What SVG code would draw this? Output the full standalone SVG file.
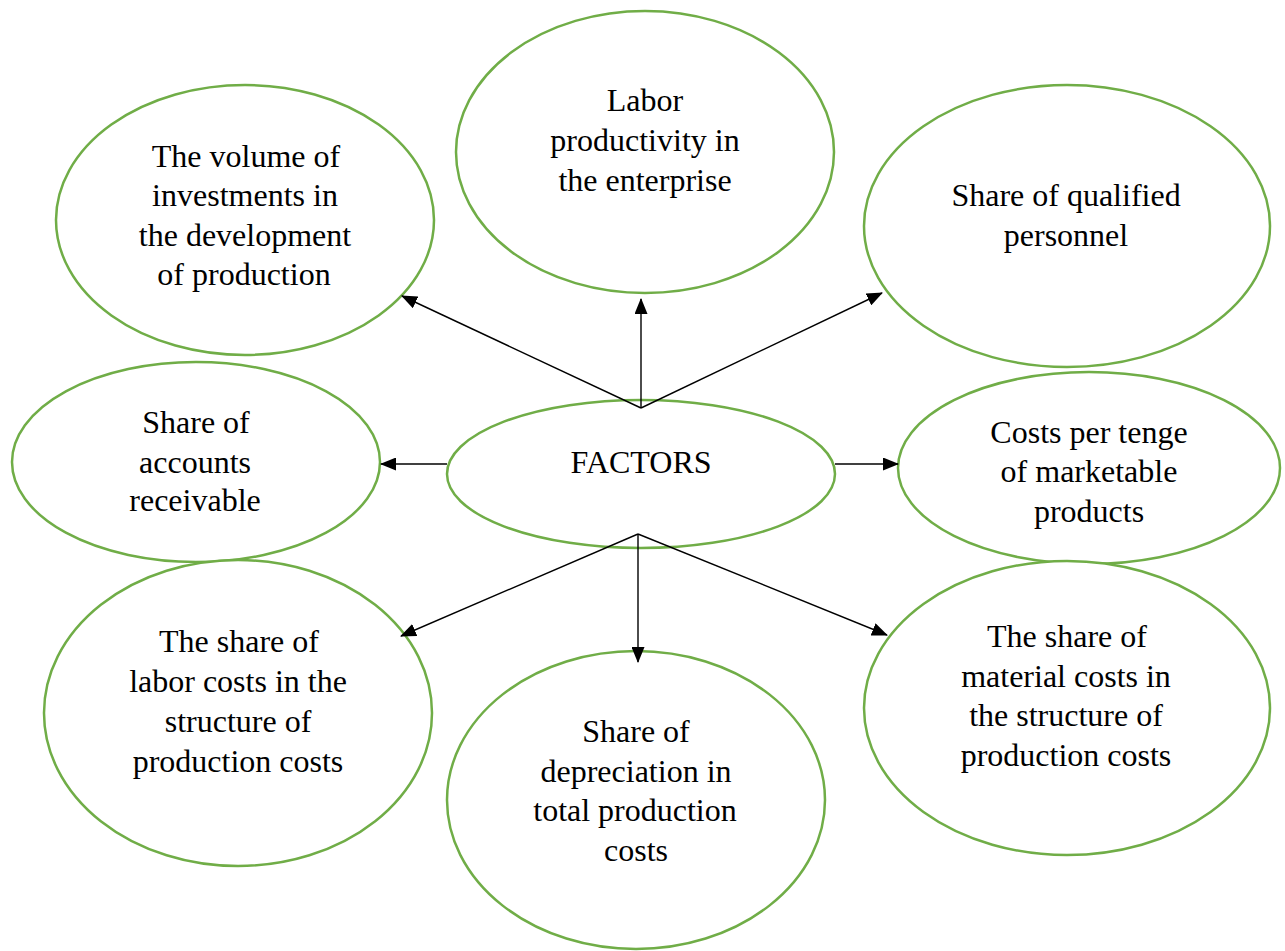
<svg xmlns="http://www.w3.org/2000/svg" width="1285" height="951" viewBox="0 0 1285 951">
<style>
.n{fill:#fff;stroke:#70AD47;stroke-width:2.5}
.t{font-family:"Liberation Serif","Times New Roman",serif;font-size:32px;fill:#000;text-anchor:middle}
.c{stroke:#000;stroke-width:1.4;fill:none;marker-end:url(#ah)}
</style>
<defs>
<marker id="ah" markerWidth="16" markerHeight="13" refX="15" refY="6.5" orient="auto" markerUnits="userSpaceOnUse">
<path d="M0,0 L16,6.5 L0,13 Z" fill="#000"/>
</marker>
</defs>
<rect width="1285" height="951" fill="#fff"/>
<g id="n-labor">
<ellipse class="n" cx="645" cy="152" rx="189" ry="141"/>
<text class="t" x="645" y="111">Labor</text>
<text class="t" x="645" y="151">productivity in</text>
<text class="t" x="645" y="191">the enterprise</text>
</g>
<g id="n-volume">
<ellipse class="n" cx="245" cy="220" rx="189" ry="135"/>
<text class="t" x="246" y="167">The volume of</text>
<text class="t" x="245" y="206">investments in</text>
<text class="t" x="245" y="246">the development</text>
<text class="t" x="244" y="285">of production</text>
</g>
<g id="n-qualified">
<ellipse class="n" cx="1067" cy="226" rx="203" ry="141"/>
<text class="t" x="1066" y="206">Share of qualified</text>
<text class="t" x="1066" y="246">personnel</text>
</g>
<g id="n-accounts">
<ellipse class="n" cx="196" cy="462" rx="184" ry="100"/>
<text class="t" x="196" y="433">Share of</text>
<text class="t" x="195" y="473">accounts</text>
<text class="t" x="195" y="511">receivable</text>
</g>
<g id="n-factors">
<ellipse class="n" cx="641" cy="474" rx="194" ry="74"/>
<text class="t" x="641" y="473">FACTORS</text>
</g>
<g id="n-costs">
<ellipse class="n" cx="1089" cy="468" rx="191" ry="96"/>
<text class="t" x="1089" y="443">Costs per tenge</text>
<text class="t" x="1089" y="482">of marketable</text>
<text class="t" x="1089" y="522">products</text>
</g>
<g id="n-laborcosts">
<ellipse class="n" cx="238" cy="713" rx="194" ry="153"/>
<text class="t" x="239" y="652">The share of</text>
<text class="t" x="238" y="692">labor costs in the</text>
<text class="t" x="238" y="732">structure of</text>
<text class="t" x="238" y="772">production costs</text>
</g>
<g id="n-depreciation">
<ellipse class="n" cx="636" cy="800" rx="189" ry="149"/>
<text class="t" x="636" y="742">Share of</text>
<text class="t" x="636" y="782">depreciation in</text>
<text class="t" x="635" y="821">total production</text>
<text class="t" x="636" y="861">costs</text>
</g>
<g id="n-material">
<ellipse class="n" cx="1067" cy="708" rx="203" ry="147"/>
<text class="t" x="1067" y="647">The share of</text>
<text class="t" x="1066" y="687">material costs in</text>
<text class="t" x="1066" y="726">the structure of</text>
<text class="t" x="1066" y="766">production costs</text>
</g>
<g id="connectors">
<line class="c" x1="641" y1="408" x2="402" y2="296"/>
<line class="c" x1="641" y1="408" x2="641" y2="299"/>
<line class="c" x1="641" y1="408" x2="882" y2="293"/>
<line class="c" x1="447" y1="464" x2="381" y2="464"/>
<line class="c" x1="835" y1="464" x2="898" y2="464"/>
<line class="c" x1="638" y1="534" x2="401" y2="636"/>
<line class="c" x1="638" y1="534" x2="638" y2="662"/>
<line class="c" x1="638" y1="534" x2="887" y2="635"/>
</g>
</svg>
